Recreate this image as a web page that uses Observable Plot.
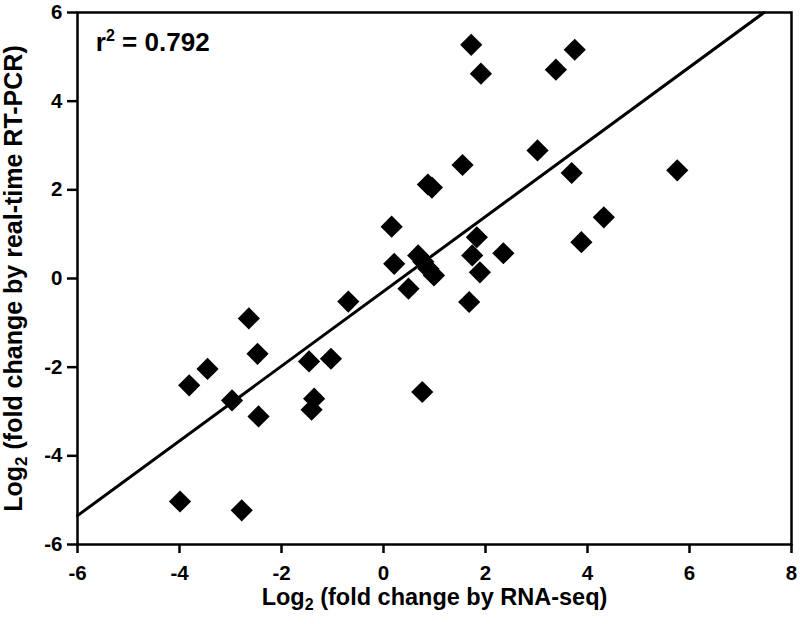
<!DOCTYPE html>
<html><head><meta charset="utf-8">
<script src="https://cdn.jsdelivr.net/npm/d3@7"></script>
<script src="https://cdn.jsdelivr.net/npm/@observablehq/plot@0.6"></script>
<style>
body{margin:0;background:#fff}
</style>
</head><body><div id="chart"></div>
<script>
// Log2 fold change by RNA-seq (x) and by real-time RT-PCR (y)
const rnaSeq = [-3.99, -2.78, -3.81, -3.45, -2.97, -2.64, -2.47, -2.45, -1.46, -1.03,
  -1.36, -1.41, -0.69, 0.16, 0.21, 0.49, 0.68, 0.78, 0.88, 0.99,
  0.76, 0.87, 0.95, 1.55, 1.68, 1.74, 1.83, 1.89, 2.35, 1.72,
  1.91, 3.38, 3.75, 3.02, 3.69, 3.88, 4.32, 5.76];
const rtPcr = [-5.03, -5.23, -2.41, -2.04, -2.75, -0.90, -1.70, -3.11, -1.87, -1.81,
  -2.71, -2.96, -0.52, 1.17, 0.33, -0.23, 0.52, 0.38, 0.22, 0.07,
  -2.56, 2.12, 2.05, 2.56, -0.53, 0.52, 0.93, 0.14, 0.57, 5.27,
  4.62, 4.71, 5.16, 2.89, 2.38, 0.82, 1.38, 2.44];
const xTicks = [-6, -4, -2, 0, 2, 4, 6, 8];
const yTicks = [-6, -4, -2, 0, 2, 4, 6];
const fitSlope = 0.843;
const fitIntercept = -0.29;
const fitRange = [-6, 7.46];
const r2Label = "r² = 0.792";
const xLabel = "Log₂ (fold change by RNA-seq)";
const yLabel = "Log₂ (fold change by real-time RT-PCR)";

const points = rnaSeq.map((x, i) => ({x, y: rtPcr[i]}));
const fitLine = fitRange.map(x => ({x, y: fitSlope * x + fitIntercept}));

const chart = Plot.plot({
  width: 800,
  height: 624,
  marginLeft: 77,
  marginRight: 9,
  marginTop: 12,
  marginBottom: 80,
  style: {fontFamily: "'Liberation Sans', Arial, sans-serif", fontWeight: "bold", color: "black", background: "white"},
  x: {domain: [-6, 8]},
  y: {domain: [-6, 6]},
  marks: [
    Plot.axisX({ticks: xTicks, tickFormat: d => String(d), tickSize: 9, tickPadding: 12, strokeWidth: 2.5, label: xLabel, labelArrow: "none", labelAnchor: "center", labelOffset: 60}),
    Plot.axisY({ticks: yTicks, tickFormat: d => String(d), tickSize: 10, tickPadding: 5, strokeWidth: 2.5, label: yLabel, labelArrow: "none", labelAnchor: "center", labelOffset: 73}),
    Plot.frame({stroke: "black", strokeWidth: 2.5}),
    Plot.line(fitLine, {x: "x", y: "y", stroke: "black", strokeWidth: 3}),
    Plot.dot(points, {x: "x", y: "y", symbol: "diamond2", r: 10, fill: "black", stroke: "none"}),
    Plot.text([r2Label], {x: -5.64, y: 5.32, text: d => d, textAnchor: "start", fill: "black"})
  ]
});
document.getElementById("chart").appendChild(chart);

const NS = "http://www.w3.org/2000/svg";
function splitScript(t, ch, size, dy) {
  const s = t.textContent;
  if (!s.includes(ch)) return;
  const [a, b] = s.split(ch);
  const target = t.querySelector("tspan") || t;
  target.textContent = "";
  const t1 = document.createElementNS(NS, "tspan"); t1.textContent = a;
  const t2 = document.createElementNS(NS, "tspan"); t2.textContent = "2"; t2.style.fontSize = size + "px"; t2.setAttribute("dy", dy);
  const t3 = document.createElementNS(NS, "tspan"); t3.textContent = b; t3.setAttribute("dy", -dy);
  target.append(t1, t2, t3);
}
chart.querySelectorAll("text").forEach(t => {
  t.style.fontFamily = "'Liberation Sans', Arial, sans-serif";
  t.style.fontWeight = "bold";
  t.style.fill = "black";
  const s = t.textContent;
  if (s.includes("r²")) {
    t.style.fontSize = "26px";
    splitScript(t, "²", 16, -10);
  } else if (s.includes("real-time")) {
    t.style.fontSize = "25px";
    splitScript(t, "₂", 17, 5);
  } else if (s.includes("₂")) {
    t.style.fontSize = "23.5px";
    splitScript(t, "₂", 16, 5);
  } else {
    t.style.fontSize = "20.5px";
  }
});
</script>
</body></html>
